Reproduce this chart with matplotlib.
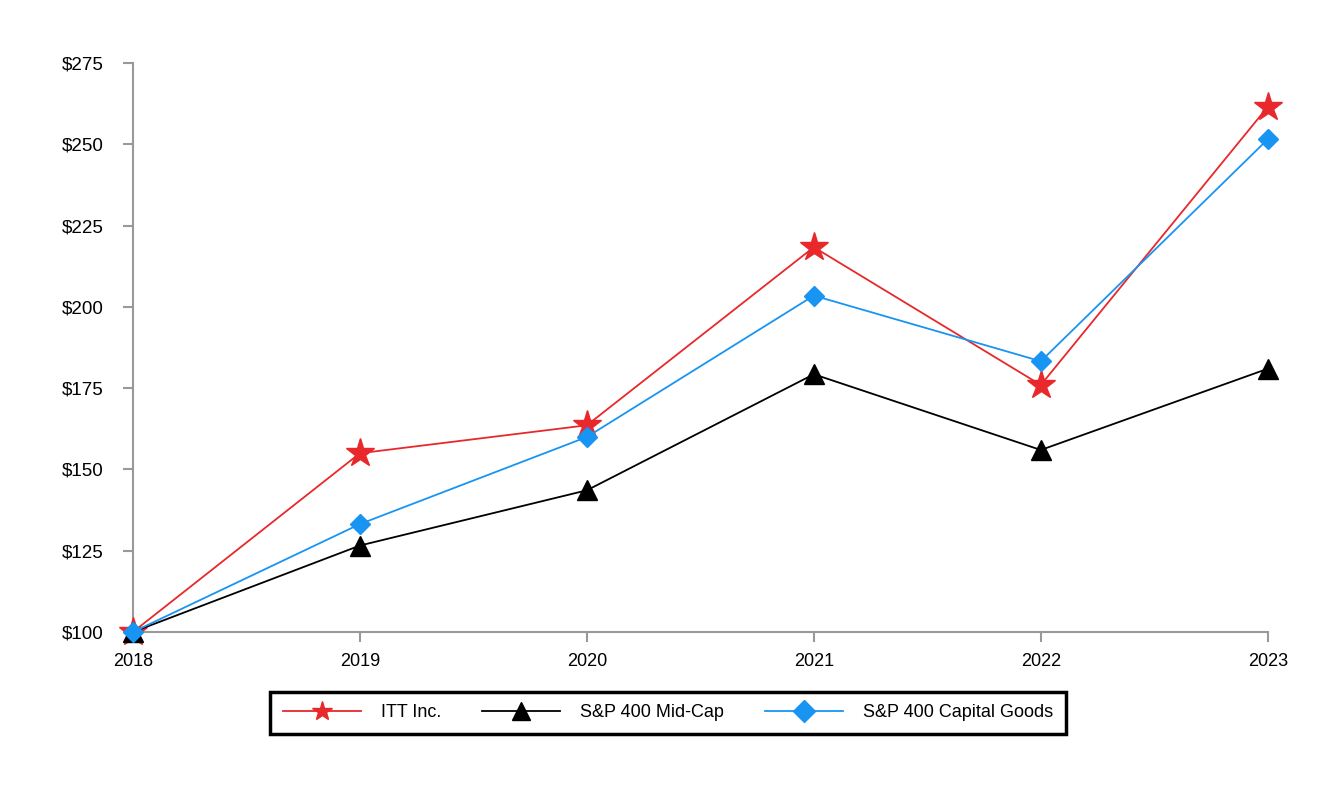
import matplotlib.pyplot as plt

plt.rcParams["font.family"] = ["Liberation Sans", "DejaVu Sans"]

years = [2018, 2019, 2020, 2021, 2022, 2023]
itt = [100, 155.0, 163.6, 218.4, 176.0, 261.6]
midcap = [100, 126.6, 143.6, 179.3, 156.0, 181.0]
capgoods = [100, 133.2, 160.0, 203.5, 183.3, 251.6]
yticks = [100, 125, 150, 175, 200, 225, 250, 275]

fig = plt.figure(figsize=(13.32, 8), dpi=100)
ax = fig.add_axes([0.0998, 0.21, 0.852, 0.711])

ax.plot(years, itt, color="#E8282B", linewidth=1.3, marker="*", markersize=21,
        label="ITT Inc.", clip_on=False, zorder=3)
ax.plot(years, midcap, color="#000000", linewidth=1.3, marker="^", markersize=14,
        label="S&P 400 Mid-Cap", clip_on=False, zorder=3)
ax.plot(years, capgoods, color="#1894F2", linewidth=1.3, marker="D", markersize=10,
        label="S&P 400 Capital Goods", clip_on=False, zorder=4)

ax.set_xlim(2018, 2023)
ax.set_ylim(100, 275)
ax.set_xticks(years)
ax.set_yticks(yticks)
ax.set_yticklabels([f"${v}" for v in yticks])

for side in ["top", "right"]:
    ax.spines[side].set_visible(False)
for side in ["left", "bottom"]:
    ax.spines[side].set_color("#999999")
    ax.spines[side].set_linewidth(1.5)

ax.tick_params(axis="y", direction="out", length=7, width=1.5, color="#999999",
               pad=14, labelsize=13.5)
ax.tick_params(axis="x", direction="out", length=7, width=1.5, color="#999999",
               pad=8, labelsize=13)

leg = fig.legend(loc="center", bbox_to_anchor=(0.5015, 0.109), ncol=3, fontsize=13,
                 frameon=True, fancybox=False, edgecolor="#000000", framealpha=1,
                 handlelength=4.3, columnspacing=2.3, borderpad=0.7, handletextpad=1.1,
                 borderaxespad=0)
leg.get_frame().set_linewidth(2.5)
# smaller markers inside the legend than on the lines
for handle, size in zip(leg.legend_handles, [15, 13, 11]):
    handle.set_markersize(size)

fig.savefig("out.png", dpi=100)
